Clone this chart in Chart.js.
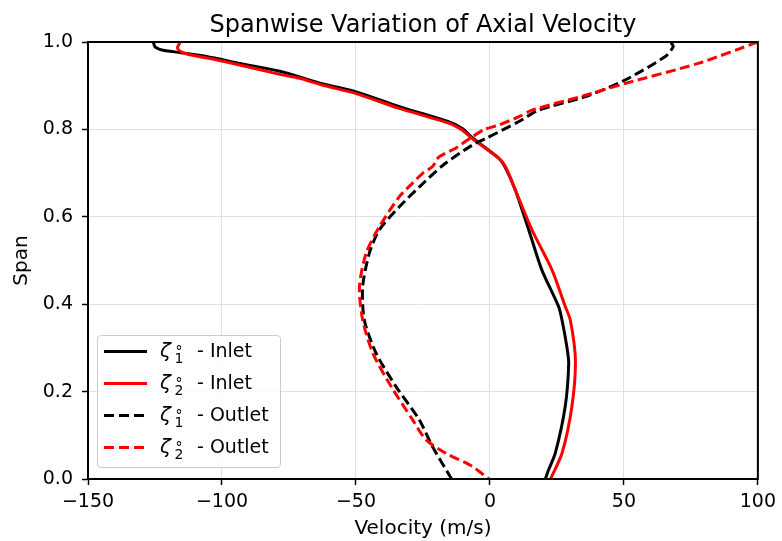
<!DOCTYPE html>
<html>
<head>
<meta charset="utf-8">
<script src="https://cdn.jsdelivr.net/npm/chart.js@4/dist/chart.umd.min.js"></script>
<style>
  html, body { margin: 0; padding: 0; background: #fff; }
  #wrap { position: relative; width: 782px; height: 541px; }
  #c { position: absolute; left: 0; top: 0; }
  #legend { position: absolute; left: 97px; top: 335px; width: 182px; height: 131px;
            border: 1px solid #cccccc; border-radius: 4px; background: rgba(255,255,255,0.8);
            font-family: 'DejaVu Sans', sans-serif; color: #000; }
  .row { position: absolute; left: 0; width: 182px; height: 30px; }
  .ln { position: absolute; left: 7px; width: 43px; height: 3px; }
  .t { position: absolute; white-space: nowrap; line-height: 1; }
  .main { font-size: 19px; }
  .zeta { font-size: 20px; }
  .scr { font-size: 14px; }
</style>
</head>
<body>
<div id="wrap">
  <canvas id="c" width="782" height="541"></canvas>
  <div id="legend"></div>
</div>
<script>
// ---- Data ----
const xTicks = [-150, -100, -50, 0, 50, 100];
const yTicks = [0.0, 0.2, 0.4, 0.6, 0.8, 1.0];

// zeta1 - Inlet (black solid)
const vel1In  = [-125.6, -125.0, -121.9, -118.2, -105.8, -93.3, -78.4, -62.3, -49.9, -33.8, -15.2, -10.3, -6.6, 3.3, 5.8, 9.5, 14.5, 19.4, 25.6, 26.9, 28.7, 29.4, 28.1, 24.4, 21.9, 20.7];
const span1In = [1.0, 0.989, 0.981, 0.978, 0.967, 0.951, 0.933, 0.904, 0.886, 0.852, 0.817, 0.802, 0.781, 0.734, 0.712, 0.661, 0.570, 0.478, 0.395, 0.364, 0.303, 0.265, 0.166, 0.059, 0.021, 0.0];

// zeta2 - Inlet (red solid)
const vel2In  = [-115.6, -116.6, -115.0, -111.9, -99.5, -78.4, -71.0, -62.3, -49.9, -33.8, -15.2, -10.3, -6.6, 3.3, 5.8, 9.5, 15.7, 23.2, 28.1, 30.0, 31.9, 30.6, 26.9, 22.6];
const span2In = [1.0, 0.986, 0.977, 0.971, 0.956, 0.926, 0.917, 0.901, 0.882, 0.848, 0.814, 0.798, 0.779, 0.734, 0.715, 0.661, 0.570, 0.478, 0.395, 0.364, 0.273, 0.166, 0.059, 0.0];

// zeta1 - Outlet (black dashed)
const vel1Out  = [67.5, 68.4, 65.3, 50.4, 35.6, 18.2, 10.8, -1.6, -6.6, -17.5, -26.4, -33.8, -41.3, -45.0, -47.5, -46.9, -42.5, -35.1, -26.4, -21.5, -14.3];
const span1Out = [1.0, 0.989, 0.966, 0.913, 0.875, 0.844, 0.818, 0.779, 0.764, 0.718, 0.668, 0.623, 0.570, 0.517, 0.440, 0.364, 0.288, 0.212, 0.136, 0.075, 0.0];

// zeta2 - Outlet (red dashed)
const vel2Out  = [100, 77.7, 50.4, 35.6, 15.7, 10.8, 3.3, -2.0, -6.6, -12.8, -19.0, -21.4, -25.2, -28.9, -33.8, -41.3, -46.2, -48.7, -47.5, -43.7, -36.9, -28.9, -23.9, -16.5, -6.6, -0.4];
const span2Out = [1.0, 0.951, 0.905, 0.878, 0.844, 0.829, 0.810, 0.800, 0.783, 0.757, 0.737, 0.715, 0.699, 0.677, 0.646, 0.577, 0.517, 0.440, 0.364, 0.288, 0.212, 0.136, 0.090, 0.059, 0.029, 0.0];

const seriesNames = ['Inlet', 'Inlet', 'Outlet', 'Outlet'];
const seriesSub = ['1', '2', '1', '2'];
const seriesColors = ['#000000', '#ff0000', '#000000', '#ff0000'];
const seriesDashed = [false, false, true, true];

const titleText = 'Spanwise Variation of Axial Velocity';
const xTitle = 'Velocity (m/s)';
const yTitle = 'Span';

// ---- Build datasets ----
function pts(xs, ys) { return xs.map((x, i) => ({ x: x, y: ys[i] })); }
const allSeries = [pts(vel1In, span1In), pts(vel2In, span2In), pts(vel1Out, span1Out), pts(vel2Out, span2Out)];

const datasets = allSeries.map((d, i) => ({
  label: seriesSub[i] + ' ' + seriesNames[i],
  data: d,
  showLine: true,
  borderColor: seriesColors[i],
  backgroundColor: seriesColors[i],
  borderWidth: 3,
  borderDash: seriesDashed[i] ? [10, 4.5] : [],
  pointRadius: 0,
  pointHoverRadius: 0,
  fill: false,
  tension: 0.25,
  order: 4 - i
}));

const FONT = "'DejaVu Sans', sans-serif";

const framePlugin = {
  id: 'frame',
  afterDatasetsDraw(chart) {
    const a = chart.chartArea, ctx = chart.ctx;
    ctx.save();
    ctx.strokeStyle = '#000';
    ctx.lineWidth = 2;
    ctx.strokeRect(a.left, a.top, a.right - a.left, a.bottom - a.top);
    ctx.restore();
  },
  afterDraw(chart) {
    const a = chart.chartArea, ctx = chart.ctx;
    ctx.save();
    ctx.fillStyle = '#000';
    ctx.font = '24px ' + FONT;
    ctx.textAlign = 'center';
    ctx.textBaseline = 'alphabetic';
    ctx.fillText(titleText, (a.left + a.right) / 2, 32);
    ctx.restore();
  }
};

new Chart(document.getElementById('c'), {
  type: 'scatter',
  data: { datasets: datasets },
  options: {
    responsive: false,
    animation: false,
    events: [],
    layout: { padding: { left: 0, right: 22, top: 42, bottom: 0 } },
    plugins: { legend: { display: false }, title: { display: false }, tooltip: { enabled: false } },
    scales: {
      x: {
        type: 'linear',
        min: -150, max: 100,
        afterBuildTicks: s => { s.ticks = xTicks.map(v => ({ value: v })); },
        afterFit: s => { s.height = 62; },
        ticks: {
          color: '#000', font: { family: FONT, size: 19 }, padding: 6, maxRotation: 0,
          callback: v => (v < 0 ? '\u2212' + Math.abs(v) : String(v))
        },
        grid: { color: '#e0e0e0', lineWidth: 1, tickColor: '#000', tickLength: 6, tickWidth: 1.5 },
        border: { display: true, color: '#000', width: 2 },
        title: { display: true, text: xTitle, color: '#000', font: { family: FONT, size: 20 }, padding: { top: 0, bottom: 0 } }
      },
      y: {
        type: 'linear',
        min: 0, max: 1,
        afterBuildTicks: s => { s.ticks = yTicks.map(v => ({ value: v })); },
        afterFit: s => { s.width = 88; },
        ticks: {
          color: '#000', font: { family: FONT, size: 19 }, padding: 9,
          callback: v => Number(v).toFixed(1)
        },
        grid: { color: '#e0e0e0', lineWidth: 1, tickColor: '#000', tickLength: 6, tickWidth: 1.5 },
        border: { display: true, color: '#000', width: 2 },
        title: { display: true, text: yTitle, color: '#000', font: { family: FONT, size: 20 }, padding: { top: 10, bottom: 0 } }
      }
    }
  },
  plugins: [framePlugin]
});

// ---- Legend (HTML text) ----
const legend = document.getElementById('legend');
const boxL = 97, boxT = 335;
seriesNames.forEach((name, i) => {
  const c = 351.5 + 32 * i;       // line centre (page y)
  const base = c + 5.5;           // text baseline (page y)
  const row = document.createElement('div');
  row.className = 'row';
  row.style.top = '0px';
  const ln = document.createElement('div');
  ln.className = 'ln';
  ln.style.top = (c - boxT - 1.5 - 1) + 'px';
  ln.style.left = (104 - boxL - 1) + 'px';
  if (seriesDashed[i]) {
    ln.style.background = 'repeating-linear-gradient(to right, ' + seriesColors[i] + ' 0px, ' + seriesColors[i] + ' 10px, transparent 10px, transparent 15px)';
  } else {
    ln.style.background = seriesColors[i];
  }
  row.appendChild(ln);
  function txt(s, cls, leftPage, baselinePage, size, extra) {
    const e = document.createElement('div');
    e.className = 't ' + cls;
    e.textContent = s;
    e.style.left = (leftPage - boxL - 1) + 'px';
    e.style.top = (baselinePage - 0.846 * size - boxT - 1) + 'px';
    if (extra) Object.assign(e.style, extra);
    row.appendChild(e);
  }
  txt('\u03B6', 'zeta', 160, base, 20, { fontStyle: 'italic' });
  txt('\u00B0', 'scr', 175.5, base - 1, 14);
  txt(seriesSub[i], 'scr', 174.5, base + 6, 14);
  txt('- ' + name, 'main', 197, base, 19);
  legend.appendChild(row);
});
</script>
</body>
</html>
